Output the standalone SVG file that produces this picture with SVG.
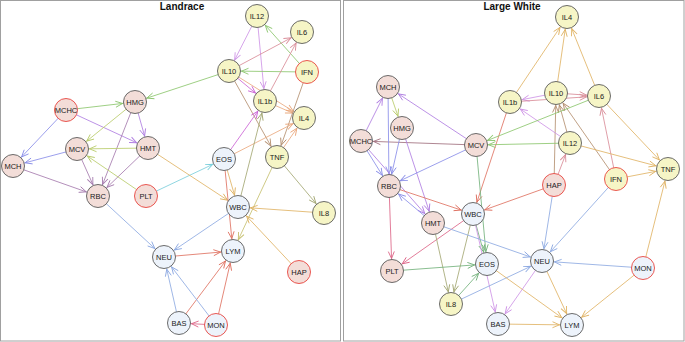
<svg xmlns="http://www.w3.org/2000/svg" width="685" height="342" viewBox="0 0 685 342">
<style>
.frame{fill:#fff;stroke:#a0a0a0;stroke-width:1}
.title{font-family:"Liberation Sans",Arial,sans-serif;font-weight:bold;font-size:10px;fill:#111;text-anchor:middle}
.node circle{stroke:#5a5a5a;stroke-width:0.9}
.node text{font-family:"Liberation Sans",Arial,sans-serif;font-size:7.5px;fill:#1a1a1a;text-anchor:middle}
.y circle{fill:#f6f5c6}
.p circle{fill:#f3ddd8}
.b circle{fill:#edf3fb}
.node.r circle{stroke:#e8453f}
.edges line{stroke-width:0.85;fill:none}
.green{stroke:#8cc66e;marker-end:url(#a-green)}
.yg{stroke:#b9cc6c;marker-end:url(#a-yg)}
.purple{stroke:#b07ee2;marker-end:url(#a-purple)}
.mauve{stroke:#a67caf;marker-end:url(#a-mauve)}
.blue{stroke:#8a8ee8;marker-end:url(#a-blue)}
.blue2{stroke:#8eaae2;marker-end:url(#a-blue2)}
.tan{stroke:#e0b466;marker-end:url(#a-tan)}
.rose{stroke:#d98c98;marker-end:url(#a-rose)}
.red{stroke:#df7262;marker-end:url(#a-red)}
.cyan{stroke:#7ccfdc;marker-end:url(#a-cyan)}
.mag{stroke:#cc66d6;marker-end:url(#a-mag)}
.violet{stroke:#cf95e6;marker-end:url(#a-violet)}
.peach{stroke:#eaa97e;marker-end:url(#a-peach)}
.brown{stroke:#b59070;marker-end:url(#a-brown)}
.olive{stroke:#a4a874;marker-end:url(#a-olive)}
.pink{stroke:#dd6688;marker-end:url(#a-pink)}
.dgreen{stroke:#74b27c;marker-end:url(#a-dgreen)}
.mbrown{stroke:#a0707e;marker-end:url(#a-mbrown)}
.ylw{stroke:#c6c070;marker-end:url(#a-ylw)}
</style>
<defs>
<marker id="a-green" markerUnits="userSpaceOnUse" markerWidth="30" markerHeight="10" refX="19.5" refY="0" orient="auto" overflow="visible"><path d="M0,-3L7,0L0,3" fill="none" stroke="#8cc66e" stroke-width="0.9"/></marker>
<marker id="a-yg" markerUnits="userSpaceOnUse" markerWidth="30" markerHeight="10" refX="19.5" refY="0" orient="auto" overflow="visible"><path d="M0,-3L7,0L0,3" fill="none" stroke="#b9cc6c" stroke-width="0.9"/></marker>
<marker id="a-purple" markerUnits="userSpaceOnUse" markerWidth="30" markerHeight="10" refX="19.5" refY="0" orient="auto" overflow="visible"><path d="M0,-3L7,0L0,3" fill="none" stroke="#b07ee2" stroke-width="0.9"/></marker>
<marker id="a-mauve" markerUnits="userSpaceOnUse" markerWidth="30" markerHeight="10" refX="19.5" refY="0" orient="auto" overflow="visible"><path d="M0,-3L7,0L0,3" fill="none" stroke="#a67caf" stroke-width="0.9"/></marker>
<marker id="a-blue" markerUnits="userSpaceOnUse" markerWidth="30" markerHeight="10" refX="19.5" refY="0" orient="auto" overflow="visible"><path d="M0,-3L7,0L0,3" fill="none" stroke="#8a8ee8" stroke-width="0.9"/></marker>
<marker id="a-blue2" markerUnits="userSpaceOnUse" markerWidth="30" markerHeight="10" refX="19.5" refY="0" orient="auto" overflow="visible"><path d="M0,-3L7,0L0,3" fill="none" stroke="#8eaae2" stroke-width="0.9"/></marker>
<marker id="a-tan" markerUnits="userSpaceOnUse" markerWidth="30" markerHeight="10" refX="19.5" refY="0" orient="auto" overflow="visible"><path d="M0,-3L7,0L0,3" fill="none" stroke="#e0b466" stroke-width="0.9"/></marker>
<marker id="a-rose" markerUnits="userSpaceOnUse" markerWidth="30" markerHeight="10" refX="19.5" refY="0" orient="auto" overflow="visible"><path d="M0,-3L7,0L0,3" fill="none" stroke="#d98c98" stroke-width="0.9"/></marker>
<marker id="a-red" markerUnits="userSpaceOnUse" markerWidth="30" markerHeight="10" refX="19.5" refY="0" orient="auto" overflow="visible"><path d="M0,-3L7,0L0,3" fill="none" stroke="#df7262" stroke-width="0.9"/></marker>
<marker id="a-cyan" markerUnits="userSpaceOnUse" markerWidth="30" markerHeight="10" refX="19.5" refY="0" orient="auto" overflow="visible"><path d="M0,-3L7,0L0,3" fill="none" stroke="#7ccfdc" stroke-width="0.9"/></marker>
<marker id="a-mag" markerUnits="userSpaceOnUse" markerWidth="30" markerHeight="10" refX="19.5" refY="0" orient="auto" overflow="visible"><path d="M0,-3L7,0L0,3" fill="none" stroke="#cc66d6" stroke-width="0.9"/></marker>
<marker id="a-violet" markerUnits="userSpaceOnUse" markerWidth="30" markerHeight="10" refX="19.5" refY="0" orient="auto" overflow="visible"><path d="M0,-3L7,0L0,3" fill="none" stroke="#cf95e6" stroke-width="0.9"/></marker>
<marker id="a-peach" markerUnits="userSpaceOnUse" markerWidth="30" markerHeight="10" refX="19.5" refY="0" orient="auto" overflow="visible"><path d="M0,-3L7,0L0,3" fill="none" stroke="#eaa97e" stroke-width="0.9"/></marker>
<marker id="a-brown" markerUnits="userSpaceOnUse" markerWidth="30" markerHeight="10" refX="19.5" refY="0" orient="auto" overflow="visible"><path d="M0,-3L7,0L0,3" fill="none" stroke="#b59070" stroke-width="0.9"/></marker>
<marker id="a-olive" markerUnits="userSpaceOnUse" markerWidth="30" markerHeight="10" refX="19.5" refY="0" orient="auto" overflow="visible"><path d="M0,-3L7,0L0,3" fill="none" stroke="#a4a874" stroke-width="0.9"/></marker>
<marker id="a-pink" markerUnits="userSpaceOnUse" markerWidth="30" markerHeight="10" refX="19.5" refY="0" orient="auto" overflow="visible"><path d="M0,-3L7,0L0,3" fill="none" stroke="#dd6688" stroke-width="0.9"/></marker>
<marker id="a-dgreen" markerUnits="userSpaceOnUse" markerWidth="30" markerHeight="10" refX="19.5" refY="0" orient="auto" overflow="visible"><path d="M0,-3L7,0L0,3" fill="none" stroke="#74b27c" stroke-width="0.9"/></marker>
<marker id="a-mbrown" markerUnits="userSpaceOnUse" markerWidth="30" markerHeight="10" refX="19.5" refY="0" orient="auto" overflow="visible"><path d="M0,-3L7,0L0,3" fill="none" stroke="#a0707e" stroke-width="0.9"/></marker>
<marker id="a-ylw" markerUnits="userSpaceOnUse" markerWidth="30" markerHeight="10" refX="19.5" refY="0" orient="auto" overflow="visible"><path d="M0,-3L7,0L0,3" fill="none" stroke="#c6c070" stroke-width="0.9"/></marker>
</defs>
<rect x="0" y="0" width="685" height="342" fill="#fff"/>
<rect class="frame" x="0.5" y="0.5" width="340" height="340.5"/>
<rect class="frame" x="343.5" y="0.5" width="340.5" height="340.5"/>
<text class="title" x="182" y="10">Landrace</text>
<text class="title" x="512" y="10">Large White</text>

<g id="L-edges" class="edges">
<line class="green" x1="66" y1="110" x2="135" y2="102"/>
<line class="purple" x1="66" y1="110" x2="148" y2="148"/>
<line class="blue" x1="66" y1="110" x2="13" y2="166"/>
<line class="yg" x1="135" y1="102" x2="77" y2="149"/>
<line class="purple" x1="135" y1="102" x2="148" y2="148"/>
<line class="mauve" x1="135" y1="102" x2="98" y2="196"/>
<line class="yg" x1="148" y1="148" x2="77" y2="149"/>
<line class="mauve" x1="148" y1="148" x2="98" y2="196"/>
<line class="mauve" x1="77" y1="149" x2="98" y2="196"/>
<line class="blue" x1="77" y1="149" x2="13" y2="166"/>
<line class="mauve" x1="13" y1="166" x2="98" y2="196"/>
<line class="yg" x1="146" y1="196" x2="77" y2="149"/>
<line class="cyan" x1="146" y1="196" x2="224" y2="159"/>
<line class="tan" x1="148" y1="148" x2="238" y2="207"/>
<line class="green" x1="229" y1="71" x2="135" y2="102"/>
<line class="blue2" x1="98" y1="196" x2="164" y2="257"/>
<line class="violet" x1="257" y1="16" x2="229" y2="71"/>
<line class="violet" x1="257" y1="16" x2="265" y2="101"/>
<line class="green" x1="307" y1="72" x2="257" y2="16"/>
<line class="green" x1="307" y1="72" x2="229" y2="71"/>
<line class="rose" x1="229" y1="71" x2="302" y2="32"/>
<line class="mag" x1="229" y1="71" x2="265" y2="101"/>
<line class="peach" x1="229" y1="71" x2="304" y2="118"/>
<line class="brown" x1="229" y1="71" x2="277" y2="157"/>
<line class="rose" x1="265" y1="101" x2="302" y2="32"/>
<line class="peach" x1="265" y1="101" x2="304" y2="118"/>
<line class="brown" x1="307" y1="72" x2="277" y2="157"/>
<line class="peach" x1="277" y1="157" x2="304" y2="118"/>
<line class="peach" x1="224" y1="159" x2="304" y2="118"/>
<line class="mag" x1="224" y1="159" x2="265" y2="101"/>
<line class="olive" x1="238" y1="207" x2="265" y2="101"/>
<line class="tan" x1="224" y1="159" x2="238" y2="207"/>
<line class="red" x1="224" y1="159" x2="233" y2="251"/>
<line class="olive" x1="277" y1="157" x2="324" y2="213"/>
<line class="ylw" x1="277" y1="157" x2="233" y2="251"/>
<line class="tan" x1="324" y1="213" x2="238" y2="207"/>
<line class="tan" x1="299" y1="272" x2="238" y2="207"/>
<line class="blue2" x1="238" y1="207" x2="164" y2="257"/>
<line class="red" x1="164" y1="257" x2="233" y2="251"/>
<line class="blue2" x1="179" y1="323" x2="164" y2="257"/>
<line class="red" x1="179" y1="323" x2="233" y2="251"/>
<line class="blue2" x1="216" y1="325" x2="164" y2="257"/>
<line class="red" x1="216" y1="325" x2="233" y2="251"/>
<line class="pink" x1="216" y1="325" x2="179" y2="323"/>
</g>

<g id="R-edges" class="edges">
<line class="purple" x1="361" y1="141" x2="388" y2="87"/>
<line class="yg" x1="388" y1="87" x2="402" y2="128"/>
<line class="purple" x1="476" y1="145" x2="388" y2="87"/>
<line class="mbrown" x1="476" y1="145" x2="361" y2="141"/>
<line class="blue" x1="388" y1="87" x2="389" y2="186"/>
<line class="blue" x1="402" y1="128" x2="389" y2="186"/>
<line class="purple" x1="402" y1="128" x2="433" y2="223"/>
<line class="blue" x1="361" y1="141" x2="389" y2="186"/>
<line class="purple" x1="361" y1="141" x2="433" y2="223"/>
<line class="blue" x1="476" y1="145" x2="389" y2="186"/>
<line class="red" x1="510" y1="102" x2="473" y2="214"/>
<line class="red" x1="389" y1="186" x2="473" y2="214"/>
<line class="red" x1="554" y1="185" x2="473" y2="214"/>
<line class="dgreen" x1="476" y1="145" x2="487" y2="264"/>
<line class="dgreen" x1="473" y1="214" x2="487" y2="264"/>
<line class="blue" x1="433" y1="223" x2="389" y2="186"/>
<line class="pink" x1="389" y1="186" x2="392" y2="271"/>
<line class="pink" x1="473" y1="214" x2="392" y2="271"/>
<line class="olive" x1="433" y1="223" x2="451" y2="304"/>
<line class="olive" x1="473" y1="214" x2="451" y2="304"/>
<line class="dgreen" x1="451" y1="304" x2="487" y2="264"/>
<line class="dgreen" x1="392" y1="271" x2="487" y2="264"/>
<line class="violet" x1="473" y1="214" x2="498" y2="324"/>
<line class="blue2" x1="433" y1="223" x2="542" y2="261"/>
<line class="blue2" x1="451" y1="304" x2="542" y2="261"/>
<line class="tan" x1="487" y1="264" x2="572" y2="325"/>
<line class="tan" x1="498" y1="324" x2="572" y2="325"/>
<line class="violet" x1="542" y1="261" x2="498" y2="324"/>
<line class="tan" x1="542" y1="261" x2="572" y2="325"/>
<line class="blue2" x1="643" y1="268" x2="542" y2="261"/>
<line class="tan" x1="643" y1="268" x2="572" y2="325"/>
<line class="tan" x1="643" y1="268" x2="668" y2="169"/>
<line class="blue2" x1="616" y1="179" x2="542" y2="261"/>
<line class="blue2" x1="554" y1="185" x2="542" y2="261"/>
<line class="tan" x1="616" y1="179" x2="668" y2="169"/>
<line class="rose" x1="616" y1="179" x2="599" y2="96"/>
<line class="brown" x1="616" y1="179" x2="556" y2="93"/>
<line class="rose" x1="554" y1="185" x2="570" y2="143"/>
<line class="brown" x1="554" y1="185" x2="556" y2="93"/>
<line class="brown" x1="570" y1="143" x2="556" y2="93"/>
<line class="violet" x1="570" y1="143" x2="510" y2="102"/>
<line class="green" x1="570" y1="143" x2="476" y2="145"/>
<line class="tan" x1="570" y1="143" x2="668" y2="169"/>
<line class="green" x1="599" y1="96" x2="476" y2="145"/>
<line class="tan" x1="599" y1="96" x2="668" y2="169"/>
<line class="violet" x1="556" y1="93" x2="510" y2="102"/>
<line class="rose" x1="556" y1="93" x2="599" y2="96"/>
<line class="rose" x1="510" y1="102" x2="599" y2="96"/>
<line class="tan" x1="510" y1="102" x2="567" y2="17"/>
<line class="tan" x1="556" y1="93" x2="567" y2="17"/>
<line class="tan" x1="599" y1="96" x2="567" y2="17"/>
</g>

<g id="L-IL12" class="node y"><circle cx="257" cy="16" r="11.5"/><text x="257" y="18.7">IL12</text></g>
<g id="L-IL6" class="node y"><circle cx="302" cy="32" r="11.5"/><text x="302" y="34.7">IL6</text></g>
<g id="L-IL10" class="node y"><circle cx="229" cy="71" r="11.5"/><text x="229" y="73.7">IL10</text></g>
<g id="L-IFN" class="node y r"><circle cx="307" cy="72" r="11.5"/><text x="307" y="74.7">IFN</text></g>
<g id="L-IL1b" class="node y"><circle cx="265" cy="101" r="11.5"/><text x="265" y="103.7">IL1b</text></g>
<g id="L-IL4" class="node y"><circle cx="304" cy="118" r="11.5"/><text x="304" y="120.7">IL4</text></g>
<g id="L-TNF" class="node y"><circle cx="277" cy="157" r="11.5"/><text x="277" y="159.7">TNF</text></g>
<g id="L-EOS" class="node b"><circle cx="224" cy="159" r="11.5"/><text x="224" y="161.7">EOS</text></g>
<g id="L-HMG" class="node p"><circle cx="135" cy="102" r="11.5"/><text x="135" y="104.7">HMG</text></g>
<g id="L-MCHC" class="node p r"><circle cx="66" cy="110" r="11.5"/><text x="66" y="112.7">MCHC</text></g>
<g id="L-HMT" class="node p"><circle cx="148" cy="148" r="11.5"/><text x="148" y="150.7">HMT</text></g>
<g id="L-MCV" class="node p"><circle cx="77" cy="149" r="11.5"/><text x="77" y="151.7">MCV</text></g>
<g id="L-MCH" class="node p"><circle cx="13" cy="166" r="11.5"/><text x="13" y="168.7">MCH</text></g>
<g id="L-RBC" class="node p"><circle cx="98" cy="196" r="11.5"/><text x="98" y="198.7">RBC</text></g>
<g id="L-PLT" class="node p r"><circle cx="146" cy="196" r="11.5"/><text x="146" y="198.7">PLT</text></g>
<g id="L-NEU" class="node b"><circle cx="164" cy="257" r="11.5"/><text x="164" y="259.7">NEU</text></g>
<g id="L-WBC" class="node b"><circle cx="238" cy="207" r="11.5"/><text x="238" y="209.7">WBC</text></g>
<g id="L-LYM" class="node b"><circle cx="233" cy="251" r="11.5"/><text x="233" y="253.7">LYM</text></g>
<g id="L-IL8" class="node y"><circle cx="324" cy="213" r="11.5"/><text x="324" y="215.7">IL8</text></g>
<g id="L-HAP" class="node p r"><circle cx="299" cy="272" r="11.5"/><text x="299" y="274.7">HAP</text></g>
<g id="L-BAS" class="node b"><circle cx="179" cy="323" r="11.5"/><text x="179" y="325.7">BAS</text></g>
<g id="L-MON" class="node b r"><circle cx="216" cy="325" r="11.5"/><text x="216" y="327.7">MON</text></g>

<g id="R-MCH" class="node p"><circle cx="388" cy="87" r="11.5"/><text x="388" y="89.7">MCH</text></g>
<g id="R-HMG" class="node p"><circle cx="402" cy="128" r="11.5"/><text x="402" y="130.7">HMG</text></g>
<g id="R-MCHC" class="node p"><circle cx="361" cy="141" r="11.5"/><text x="361" y="143.7">MCHC</text></g>
<g id="R-MCV" class="node p"><circle cx="476" cy="145" r="11.5"/><text x="476" y="147.7">MCV</text></g>
<g id="R-IL1b" class="node y"><circle cx="510" cy="102" r="11.5"/><text x="510" y="104.7">IL1b</text></g>
<g id="R-IL10" class="node y"><circle cx="556" cy="93" r="11.5"/><text x="556" y="95.7">IL10</text></g>
<g id="R-IL6" class="node y"><circle cx="599" cy="96" r="11.5"/><text x="599" y="98.7">IL6</text></g>
<g id="R-IL4" class="node y"><circle cx="567" cy="17" r="11.5"/><text x="567" y="19.7">IL4</text></g>
<g id="R-IL12" class="node y"><circle cx="570" cy="143" r="11.5"/><text x="570" y="145.7">IL12</text></g>
<g id="R-TNF" class="node y"><circle cx="668" cy="169" r="11.5"/><text x="668" y="171.7">TNF</text></g>
<g id="R-HAP" class="node p r"><circle cx="554" cy="185" r="11.5"/><text x="554" y="187.7">HAP</text></g>
<g id="R-IFN" class="node y r"><circle cx="616" cy="179" r="11.5"/><text x="616" y="181.7">IFN</text></g>
<g id="R-RBC" class="node p"><circle cx="389" cy="186" r="11.5"/><text x="389" y="188.7">RBC</text></g>
<g id="R-WBC" class="node b"><circle cx="473" cy="214" r="11.5"/><text x="473" y="216.7">WBC</text></g>
<g id="R-HMT" class="node p"><circle cx="433" cy="223" r="11.5"/><text x="433" y="225.7">HMT</text></g>
<g id="R-PLT" class="node p"><circle cx="392" cy="271" r="11.5"/><text x="392" y="273.7">PLT</text></g>
<g id="R-EOS" class="node b"><circle cx="487" cy="264" r="11.5"/><text x="487" y="266.7">EOS</text></g>
<g id="R-IL8" class="node y"><circle cx="451" cy="304" r="11.5"/><text x="451" y="306.7">IL8</text></g>
<g id="R-BAS" class="node b"><circle cx="498" cy="324" r="11.5"/><text x="498" y="326.7">BAS</text></g>
<g id="R-NEU" class="node b"><circle cx="542" cy="261" r="11.5"/><text x="542" y="263.7">NEU</text></g>
<g id="R-MON" class="node b r"><circle cx="643" cy="268" r="11.5"/><text x="643" y="270.7">MON</text></g>
<g id="R-LYM" class="node b"><circle cx="572" cy="325" r="11.5"/><text x="572" y="327.7">LYM</text></g>
</svg>
